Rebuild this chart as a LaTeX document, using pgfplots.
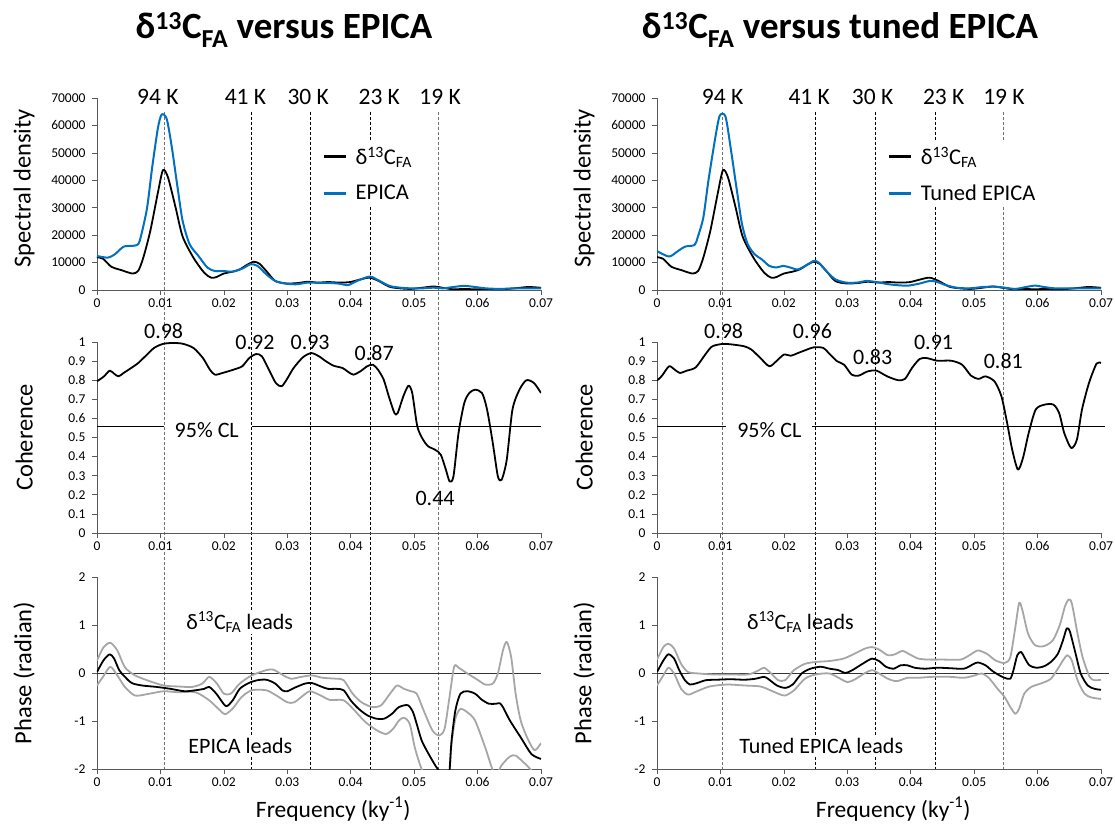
\documentclass[border=0pt]{standalone}
\usepackage{fontspec}
\setmainfont{Carlito}
\usepackage{pgfplots}
\pgfplotsset{compat=1.18}
\pgfdeclarelayer{background}
\pgfsetlayers{background,main}
\definecolor{epica}{HTML}{0070C0}
\definecolor{cigray}{HTML}{A6A6A6}
\newcommand{\dC}{δ\textsuperscript{13}C\textsubscript{FA}}
\tikzset{
  per/.style={font=\fontsize{23.5}{25}\selectfont, anchor=center},
  val/.style={font=\fontsize{22}{24}\selectfont, anchor=center},
}
\pgfplotsset{
  panel/.style={
    scale only axis, width=444pt, anchor=south west,
    xmin=0, xmax=0.07,
    axis lines=left,
    axis line style={-, black!65, line width=0.7pt},
    tick align=outside, major tick length=5pt,
    tick style={black!65, line width=0.7pt},
    scaled ticks=false,
    xtick={0,0.01,0.02,0.03,0.04,0.05,0.06,0.07},
    xticklabels={0,0.01,0.02,0.03,0.04,0.05,0.06,0.07},
    ticklabel style={font=\fontsize{13.5}{15}\selectfont},
    yticklabel style={xshift=-3pt},
    /pgf/number format/assume math mode=true,
    clip mode=individual,
    every axis y label/.style={at={(axis description cs:-0.164,0.5)}, rotate=90, anchor=center, font=\fontsize{24.5}{27}\selectfont},
    every axis x label/.style={at={(axis description cs:0.532,-0.25)}, anchor=base, font=\fontsize{23.5}{26}\selectfont},
    legend style={draw=none, fill=white, anchor=north west, font=\fontsize{22.5}{24}\selectfont, row sep=15pt, inner sep=3pt},
    legend cell align=left,
    legend image code/.code={\draw[#1, line width=3pt] (0pt,0pt) -- (22pt,0pt); \path (29pt,0pt);},
  },
  sd/.style={panel, height=192pt, ymin=0, ymax=70000,
    ytick={0,10000,20000,30000,40000,50000,60000,70000},
    yticklabels={0,10000,20000,30000,40000,50000,60000,70000},
    ylabel={Spectral density},
    every axis y label/.append style={at={(axis description cs:-0.164,0.53)}}},
  coh/.style={panel, height=191pt, ymin=0, ymax=1,
    ytick={0,0.1,0.2,0.3,0.4,0.5,0.6,0.7,0.8,0.9,1},
    yticklabels={0,0.1,0.2,0.3,0.4,0.5,0.6,0.7,0.8,0.9,1},
    ylabel={Coherence}},
  ph/.style={panel, height=192pt, ymin=-2, ymax=2,
    ytick={-2,-1,0,1,2}, yticklabels={-2,-1,0,1,2},
    ylabel={Phase (radian)}, xlabel={Frequency (ky\textsuperscript{-1})}},
  blk/.style={black, line width=1.8pt, smooth, tension=0.45, line join=round},
  blu/.style={epica, line width=2pt, smooth, tension=0.45, line join=round},
  gry/.style={cigray, line width=1.8pt, smooth, tension=0.45, line join=round},
}
% delta13C FA spectrum
\pgfplotstableread{
x y
0 12000
0.001 11300
0.00225 8500
0.0039 7200
0.0056 6000
0.0065 7000
0.0073 11800
0.0084 21500
0.0096 35500
0.0104 43700
0.0112 41000
0.0124 30000
0.0135 19500
0.0152 11800
0.0169 6300
0.018 4500
0.0188 4700
0.02 6000
0.0214 6700
0.0225 7500
0.0236 9100
0.0247 10300
0.0256 9600
0.0267 6900
0.0281 3300
0.0298 2400
0.0315 2500
0.0332 3000
0.0349 2700
0.0365 2900
0.0382 2700
0.0399 2900
0.0416 3900
0.043 4500
0.0444 3300
0.0461 1200
0.0478 600
0.0495 400
0.0512 800
0.0531 1300
0.0545 800
0.0562 250
0.0579 400
0.0596 250
0.0613 400
0.0635 250
0.0658 600
0.068 1100
0.07 800
}\sdC
\pgfplotstableread{
x y
0 12400
0.0017 11800
0.0028 13000
0.0042 15800
0.0056 16100
0.0065 16700
0.007 20300
0.0079 30000
0.0087 44700
0.0096 59000
0.0102 64000
0.011 62300
0.0118 52000
0.0127 37400
0.0135 25200
0.0146 16700
0.016 12400
0.0174 8200
0.0186 6900
0.02 6900
0.0214 6700
0.023 7900
0.0242 9400
0.0253 8800
0.0267 5700
0.0281 3300
0.0298 2300
0.0315 2100
0.0332 2700
0.0349 2600
0.0365 2600
0.0382 2300
0.0396 1800
0.041 3300
0.043 4900
0.0444 3500
0.0461 1500
0.0478 850
0.0495 600
0.0512 600
0.0531 850
0.0545 600
0.0562 1100
0.0579 1500
0.0596 1100
0.0613 600
0.0635 400
0.0658 600
0.068 600
0.07 600
}\sdE
\pgfplotstableread{
x y
0 14200
0.0019 12200
0.0033 14200
0.0044 15800
0.0059 16400
0.0064 19100
0.0073 26400
0.0081 39800
0.0092 55700
0.0099 63600
0.0108 63200
0.0116 52000
0.0126 36200
0.0134 24000
0.0143 16700
0.0154 13000
0.0165 11200
0.0177 8800
0.0188 8200
0.0199 8800
0.021 8200
0.0222 7500
0.0236 9100
0.0247 10600
0.0255 10000
0.0267 6900
0.0281 3900
0.0298 2700
0.0315 2700
0.0331 3300
0.0348 2800
0.0365 2100
0.0382 1700
0.0396 1600
0.0413 2300
0.043 3300
0.0441 3000
0.0455 1800
0.0472 850
0.0492 600
0.0514 1100
0.0531 1200
0.0548 850
0.0565 400
0.0582 1100
0.0596 1600
0.061 1100
0.0627 600
0.0649 600
0.0672 600
0.07 600
}\sdT
\pgfplotstableread{
x y
0 0.794
0.0011 0.82
0.002 0.85
0.0027 0.834
0.0034 0.82
0.0042 0.838
0.0054 0.864
0.0065 0.89
0.0076 0.925
0.009 0.969
0.0104 0.99
0.0119 0.995
0.0135 0.991
0.0152 0.969
0.0167 0.916
0.0178 0.855
0.0186 0.829
0.0198 0.838
0.0215 0.855
0.0229 0.873
0.024 0.916
0.0251 0.937
0.026 0.925
0.0271 0.855
0.0282 0.785
0.0291 0.768
0.0299 0.803
0.031 0.864
0.0325 0.921
0.0338 0.942
0.035 0.925
0.0361 0.899
0.0373 0.876
0.0387 0.864
0.0395 0.846
0.0404 0.829
0.0415 0.846
0.0426 0.873
0.0435 0.881
0.0443 0.855
0.0452 0.803
0.046 0.716
0.0469 0.628
0.0474 0.628
0.0483 0.716
0.0491 0.771
0.0497 0.733
0.0505 0.558
0.0514 0.489
0.0522 0.454
0.0533 0.436
0.0542 0.41
0.055 0.332
0.0556 0.27
0.0562 0.297
0.057 0.524
0.0579 0.68
0.0587 0.733
0.0596 0.75
0.0607 0.733
0.0615 0.646
0.0624 0.471
0.0632 0.297
0.0638 0.279
0.0646 0.384
0.0655 0.646
0.0666 0.75
0.0677 0.8
0.0689 0.785
0.07 0.733
}\cohL
\pgfplotstableread{
x y
0 0.798
0.0008 0.824
0.0019 0.873
0.0028 0.855
0.0036 0.838
0.0047 0.85
0.0061 0.867
0.0076 0.934
0.0087 0.977
0.0104 0.99
0.0121 0.986
0.0138 0.977
0.0149 0.96
0.0163 0.916
0.0177 0.873
0.0188 0.899
0.02 0.934
0.0211 0.928
0.0222 0.942
0.0233 0.956
0.0247 0.972
0.0262 0.969
0.0273 0.934
0.0284 0.899
0.0295 0.881
0.0307 0.829
0.0318 0.824
0.0332 0.846
0.0346 0.85
0.0363 0.82
0.038 0.8
0.0391 0.807
0.0402 0.864
0.0414 0.911
0.0425 0.916
0.0442 0.902
0.0464 0.902
0.0481 0.881
0.0495 0.824
0.0507 0.807
0.0518 0.82
0.0532 0.794
0.0543 0.716
0.0552 0.576
0.056 0.436
0.0569 0.332
0.0577 0.393
0.0586 0.524
0.0597 0.646
0.0611 0.672
0.0625 0.672
0.0634 0.628
0.0642 0.524
0.0653 0.445
0.0662 0.489
0.067 0.646
0.0681 0.785
0.0693 0.887
0.07 0.89
}\cohR
\pgfplotstableread{
x y
0 0.02
0.001 0.26
0.002 0.39
0.0027 0.3
0.0035 0.06
0.0044 -0.08
0.0055 -0.21
0.0071 -0.26
0.0094 -0.29
0.0116 -0.33
0.0138 -0.38
0.0155 -0.36
0.0169 -0.33
0.0177 -0.29
0.0188 -0.43
0.02 -0.65
0.0205 -0.69
0.0214 -0.57
0.0225 -0.33
0.0239 -0.21
0.0253 -0.15
0.0267 -0.14
0.0281 -0.22
0.0292 -0.36
0.03 -0.38
0.0311 -0.31
0.0328 -0.22
0.0339 -0.21
0.0353 -0.28
0.0364 -0.33
0.0378 -0.33
0.0389 -0.36
0.04 -0.57
0.0412 -0.74
0.0426 -0.88
0.044 -0.95
0.0453 -0.95
0.0465 -0.85
0.0476 -0.71
0.049 -0.67
0.0498 -0.81
0.0504 -1.06
0.0512 -1.41
0.0523 -1.69
0.0534 -1.94
0.054 -2.05
0.0546 -2.4
0.0553 -2.4
0.0556 -2.0
0.0559 -1.41
0.0565 -0.78
0.0573 -0.43
0.0584 -0.38
0.0596 -0.43
0.0607 -0.56
0.0618 -0.64
0.0629 -0.64
0.0635 -0.63
0.064 -0.71
0.0651 -0.99
0.0668 -1.34
0.0685 -1.69
0.07 -1.79
}\phL
\pgfplotstableread{
x y
0 0.26
0.001 0.53
0.0021 0.63
0.0032 0.47
0.0044 0.12
0.006 -0.05
0.0083 -0.17
0.0105 -0.26
0.0127 -0.28
0.015 -0.29
0.0166 -0.22
0.0177 -0.08
0.0189 -0.22
0.02 -0.43
0.0211 -0.43
0.0225 -0.22
0.0244 -0.05
0.0267 0.06
0.0278 0.07
0.0294 -0.05
0.0306 -0.12
0.0322 -0.08
0.0339 -0.05
0.0356 -0.1
0.0378 -0.12
0.0389 -0.15
0.0403 -0.43
0.0417 -0.61
0.0434 -0.71
0.0448 -0.67
0.0462 -0.43
0.0473 -0.26
0.0484 -0.33
0.0495 -0.38
0.0504 -0.43
0.0515 -0.78
0.0529 -1.2
0.054 -1.3
0.0548 -1.16
0.0555 -0.57
0.0563 0.13
0.057 0.11
0.0584 -0.01
0.0601 -0.15
0.0612 -0.24
0.0624 -0.22
0.0632 -0.01
0.064 0.47
0.0646 0.65
0.0653 0.33
0.066 -0.43
0.0668 -0.99
0.0679 -1.37
0.069 -1.61
0.07 -1.46
}\phLu
\pgfplotstableread{
x y
0 -0.26
0.001 -0.07
0.0021 0.13
0.0032 -0.05
0.0044 -0.29
0.006 -0.47
0.0083 -0.43
0.0105 -0.38
0.0127 -0.4
0.0155 -0.4
0.0177 -0.57
0.0194 -0.78
0.0202 -0.86
0.0214 -0.74
0.0228 -0.5
0.0244 -0.36
0.0267 -0.36
0.0283 -0.47
0.03 -0.61
0.0311 -0.61
0.0325 -0.47
0.0336 -0.38
0.0353 -0.47
0.0367 -0.56
0.0389 -0.57
0.0406 -0.78
0.0423 -1.02
0.0442 -1.2
0.0456 -1.27
0.0467 -1.16
0.0476 -0.99
0.0484 -0.93
0.0493 -1.06
0.0501 -1.55
0.0509 -1.9
0.0515 -2.1
0.053 -2.6
0.0553 -2.6
0.0558 -1.6
0.0565 -0.95
0.0573 -0.75
0.0584 -0.82
0.0596 -0.99
0.0612 -1.55
0.0624 -2.03
0.063 -2.12
0.0638 -1.92
0.0651 -1.74
0.066 -1.72
0.0674 -1.88
0.0685 -2.03
0.07 -2.3
}\phLl
\pgfplotstableread{
x y
0 0.02
0.001 0.26
0.0018 0.39
0.0027 0.3
0.0035 0.06
0.0044 -0.15
0.0052 -0.24
0.0063 -0.21
0.0077 -0.15
0.0094 -0.14
0.0116 -0.13
0.0138 -0.14
0.0155 -0.12
0.0169 -0.08
0.0177 -0.14
0.0189 -0.26
0.0202 -0.31
0.0214 -0.24
0.0228 -0.01
0.0242 0.09
0.0258 0.13
0.0272 0.09
0.0286 0.06
0.0297 0.0
0.0308 0.06
0.0325 0.2
0.0339 0.3
0.035 0.25
0.0361 0.13
0.0373 0.09
0.0384 0.16
0.0395 0.16
0.0406 0.11
0.0423 0.09
0.0442 0.11
0.0462 0.1
0.0484 0.09
0.0498 0.18
0.0506 0.22
0.0518 0.16
0.0529 0.04
0.054 -0.05
0.0548 -0.1
0.0557 -0.12
0.0562 0.06
0.0568 0.37
0.0574 0.44
0.0579 0.33
0.0587 0.16
0.0598 0.11
0.061 0.14
0.0621 0.23
0.0632 0.4
0.064 0.68
0.0646 0.93
0.0651 0.86
0.066 0.4
0.0668 -0.01
0.0679 -0.26
0.069 -0.33
0.07 -0.35
}\phR
\pgfplotstableread{
x y
0 0.28
0.001 0.54
0.0018 0.61
0.0027 0.51
0.0038 0.19
0.0049 0.02
0.0066 -0.01
0.0088 -0.03
0.0116 -0.03
0.0144 -0.03
0.0161 0.06
0.0169 0.11
0.018 -0.01
0.0191 -0.15
0.0202 -0.15
0.0216 0.06
0.0233 0.19
0.025 0.23
0.0272 0.25
0.0294 0.3
0.0311 0.4
0.0328 0.51
0.0339 0.54
0.035 0.49
0.0364 0.37
0.0375 0.39
0.0387 0.46
0.0398 0.39
0.0412 0.3
0.0428 0.28
0.0451 0.28
0.0479 0.28
0.0495 0.39
0.0506 0.47
0.052 0.4
0.0534 0.26
0.0548 0.21
0.0557 0.33
0.0565 0.96
0.0571 1.46
0.0576 1.31
0.0585 0.82
0.0596 0.58
0.061 0.56
0.0624 0.68
0.0635 1.0
0.0643 1.38
0.0649 1.53
0.0654 1.45
0.0663 0.82
0.0671 0.33
0.0682 -0.08
0.069 -0.15
0.07 -0.14
}\phRu
\pgfplotstableread{
x y
0 -0.26
0.001 -0.05
0.0018 0.11
0.0027 -0.01
0.0038 -0.33
0.0049 -0.45
0.0063 -0.38
0.0083 -0.28
0.011 -0.24
0.0138 -0.26
0.0163 -0.28
0.0177 -0.35
0.0191 -0.43
0.0202 -0.47
0.0216 -0.36
0.0233 -0.12
0.025 -0.03
0.0272 -0.01
0.0289 -0.12
0.03 -0.19
0.0311 -0.14
0.0328 0.0
0.0339 0.06
0.035 -0.01
0.0364 -0.12
0.0378 -0.17
0.0395 -0.1
0.0412 -0.1
0.0434 -0.08
0.0462 -0.08
0.0484 -0.1
0.0501 -0.05
0.0512 -0.01
0.0523 -0.1
0.0537 -0.33
0.0548 -0.5
0.0557 -0.71
0.0565 -0.85
0.0571 -0.74
0.0579 -0.43
0.059 -0.29
0.0607 -0.21
0.0621 -0.12
0.0632 0.09
0.064 0.26
0.0647 0.37
0.0654 0.26
0.0663 -0.15
0.0674 -0.43
0.0685 -0.51
0.07 -0.54
}\phRl
\begin{document}
\begin{tikzpicture}
\useasboundingbox (0pt,0pt) rectangle (1115pt,-829pt);
% titles
\node[font=\fontsize{37}{42}\selectfont\bfseries, anchor=base] at (284pt,-39pt) {\dC{} versus EPICA};
\node[font=\fontsize{37}{42}\selectfont\bfseries, anchor=base] at (840pt,-39pt) {\dC{} versus tuned EPICA};
% ===== LEFT column =====
\begin{axis}[sd, at={(97pt,-290pt)}, name=TL, legend style={at={(axis cs:0.0350,54000)}}]
\addplot[blk] table {\sdC}; \addlegendentry{\dC}
\addplot[blu] table {\sdE}; \addlegendentry{EPICA}
\node[per] at (axis cs:0.0096,70400) {94 K};
\node[per] at (axis cs:0.0234,70400) {41 K};
\node[per] at (axis cs:0.0333,70400) {30 K};
\node[per] at (axis cs:0.0445,70400) {23 K};
\node[per] at (axis cs:0.0541,70400) {19 K};
\coordinate (L1) at (axis cs:0.0106,65000);
\coordinate (L2) at (axis cs:0.0243,65000);
\coordinate (L3) at (axis cs:0.0337,65000);
\coordinate (L4) at (axis cs:0.0431,65000);
\coordinate (L5) at (axis cs:0.0538,65000);
\end{axis}
\begin{axis}[coh, at={(97pt,-533pt)}, name=ML]
\draw[black, line width=0.6pt] (axis cs:0,0.56) -- (axis cs:0.0106,0.56);
\draw[black, line width=0.6pt] (axis cs:0.0244,0.56) -- (axis cs:0.07,0.56);
\addplot[blk] table {\cohL};
\node[val] at (axis cs:0.0173,0.54) {95\% CL};
\node[val] at (axis cs:0.0105,1.056) {0.98};
\node[val] at (axis cs:0.0249,0.998) {0.92};
\node[val] at (axis cs:0.0336,0.998) {0.93};
\node[val] at (axis cs:0.0437,0.942) {0.87};
\node[val] at (axis cs:0.0533,0.18) {0.44};
\end{axis}
\begin{axis}[ph, at={(97pt,-769pt)}, name=BL]
\draw[black!80, line width=0.6pt] (axis cs:0,0) -- (axis cs:0.07,0);
\addplot[gry] table {\phLu};
\addplot[gry] table {\phLl};
\addplot[blk] table {\phL};
\node[val, fill=white, inner sep=2pt] at (axis cs:0.0225,1.06) {\dC{} leads};
\node[val, fill=white, inner sep=2pt] at (axis cs:0.0226,-1.51) {EPICA leads};
\end{axis}
% ===== RIGHT column =====
\begin{axis}[sd, at={(657pt,-290pt)}, name=TR, legend style={at={(axis cs:0.0358,54000)}}]
\addplot[blk] table {\sdC}; \addlegendentry{\dC}
\addplot[blu] table {\sdT}; \addlegendentry{Tuned EPICA}
\node[per] at (axis cs:0.01035,70400) {94 K};
\node[per] at (axis cs:0.024,70400) {41 K};
\node[per] at (axis cs:0.034,70400) {30 K};
\node[per] at (axis cs:0.0452,70400) {23 K};
\node[per] at (axis cs:0.0547,70400) {19 K};
\coordinate (R1) at (axis cs:0.0103,65000);
\coordinate (R2) at (axis cs:0.025,65000);
\coordinate (R3) at (axis cs:0.0344,65000);
\coordinate (R4) at (axis cs:0.0439,65000);
\coordinate (R5) at (axis cs:0.0546,65000);
\end{axis}
\begin{axis}[coh, at={(657pt,-533pt)}, name=MR]
\draw[black, line width=0.6pt] (axis cs:0,0.56) -- (axis cs:0.0109,0.56);
\draw[black, line width=0.6pt] (axis cs:0.0245,0.56) -- (axis cs:0.0707,0.56);
\addplot[blk] table {\cohR};
\node[val] at (axis cs:0.0177,0.54) {95\% CL};
\node[val] at (axis cs:0.0105,1.056) {0.98};
\node[val] at (axis cs:0.0245,1.056) {0.96};
\node[val] at (axis cs:0.034,0.921) {0.83};
\node[val] at (axis cs:0.0436,0.998) {0.91};
\node[val] at (axis cs:0.0546,0.899) {0.81};
\end{axis}
\begin{axis}[ph, at={(657pt,-769pt)}, name=BR]
\draw[black!80, line width=0.6pt] (axis cs:0,0) -- (axis cs:0.0713,0);
\addplot[gry] table {\phRu};
\addplot[gry] table {\phRl};
\addplot[blk] table {\phR};
\node[val] at (axis cs:0.0226,1.06) {\dC{} leads};
\node[val, fill=white, inner sep=2pt] at (axis cs:0.0259,-1.51) {Tuned EPICA leads};
\end{axis}
% dashed period lines (behind everything)
\begin{pgfonlayer}{background}
\foreach \n/\c in {1/black!55,2/black,3/black,4/black,5/black!55}{
  \draw[\c, line width=0.6pt, dash pattern=on 3pt off 2pt] (L\n) -- (L\n |- BL.south west);
  \draw[\c, line width=0.6pt, dash pattern=on 3pt off 2pt] (R\n) -- (R\n |- BR.south west);
}
\end{pgfonlayer}
\end{tikzpicture}
\end{document}
